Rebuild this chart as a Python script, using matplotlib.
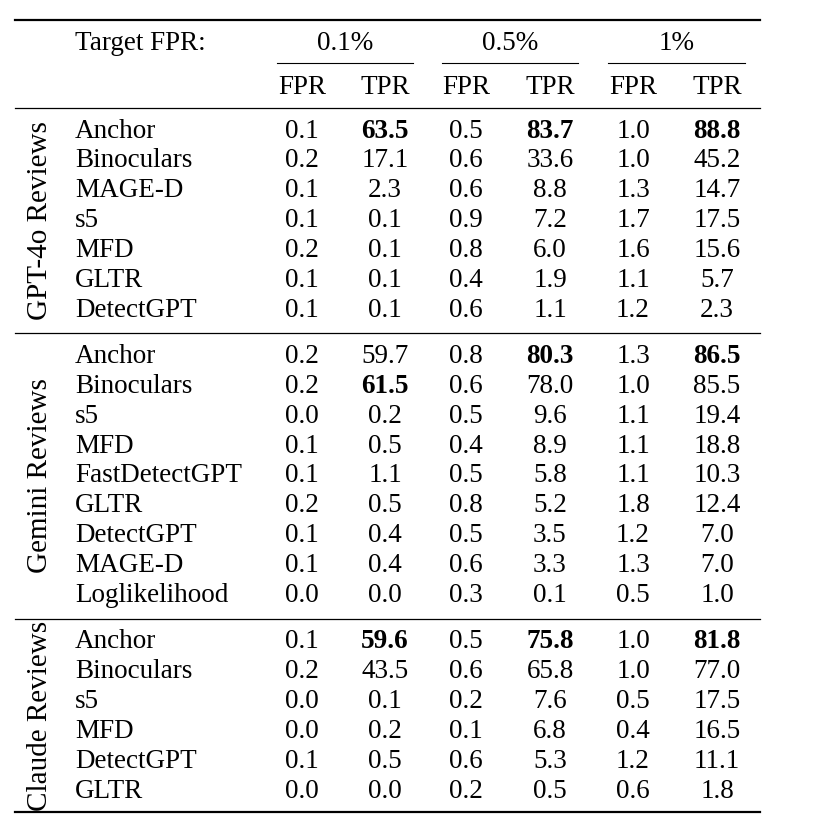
import matplotlib
matplotlib.use("Agg")
import matplotlib.pyplot as plt
import numpy as np

plt.rcParams["font.family"] = ["Liberation Serif", "DejaVu Serif"]

target_fprs = ["0.1%", "0.5%", "1%"]
groups = ["GPT-4o Reviews", "Gemini Reviews", "Claude Reviews"]

gpt_methods = ["Anchor", "Binoculars", "MAGE-D", "s5", "MFD", "GLTR", "DetectGPT"]
gpt_values = [
    [0.1, 63.5, 0.5, 83.7, 1.0, 88.8],
    [0.2, 17.1, 0.6, 33.6, 1.0, 45.2],
    [0.1, 2.3, 0.6, 8.8, 1.3, 14.7],
    [0.1, 0.1, 0.9, 7.2, 1.7, 17.5],
    [0.2, 0.1, 0.8, 6.0, 1.6, 15.6],
    [0.1, 0.1, 0.4, 1.9, 1.1, 5.7],
    [0.1, 0.1, 0.6, 1.1, 1.2, 2.3],
]
gemini_methods = ["Anchor", "Binoculars", "s5", "MFD", "FastDetectGPT", "GLTR",
                  "DetectGPT", "MAGE-D", "Loglikelihood"]
gemini_values = [
    [0.2, 59.7, 0.8, 80.3, 1.3, 86.5],
    [0.2, 61.5, 0.6, 78.0, 1.0, 85.5],
    [0.0, 0.2, 0.5, 9.6, 1.1, 19.4],
    [0.1, 0.5, 0.4, 8.9, 1.1, 18.8],
    [0.1, 1.1, 0.5, 5.8, 1.1, 10.3],
    [0.2, 0.5, 0.8, 5.2, 1.8, 12.4],
    [0.1, 0.4, 0.5, 3.5, 1.2, 7.0],
    [0.1, 0.4, 0.6, 3.3, 1.3, 7.0],
    [0.0, 0.0, 0.3, 0.1, 0.5, 1.0],
]
claude_methods = ["Anchor", "Binoculars", "s5", "MFD", "DetectGPT", "GLTR"]
claude_values = [
    [0.1, 59.6, 0.5, 75.8, 1.0, 81.8],
    [0.2, 43.5, 0.6, 65.8, 1.0, 77.0],
    [0.0, 0.1, 0.2, 7.6, 0.5, 17.5],
    [0.0, 0.2, 0.1, 6.8, 0.4, 16.5],
    [0.1, 0.5, 0.6, 5.3, 1.2, 11.1],
    [0.0, 0.0, 0.2, 0.5, 0.6, 1.8],
]
blocks = [(gpt_methods, gpt_values), (gemini_methods, gemini_values),
          (claude_methods, claude_values)]

W, H = 815, 826
fig = plt.figure(figsize=(W / 100, H / 100), dpi=100)
ax = fig.add_axes([0, 0, 1, 1])
ax.set_xlim(0, W)
ax.set_ylim(H, 0)
ax.axis("off")

fs = 19.5
col_x = [302, 385, 466, 550, 633, 717]
group_x = [(277, 413), (442, 578), (608, 745)]
x0, x1 = 15, 760
row_h = 29.9

ax.plot([x0, x1], [20, 20], color="black", lw=1.6)
ax.text(75, 43, "Target FPR:", fontsize=fs, va="center")
for lbl, (a, b) in zip(target_fprs, group_x):
    ax.text((a + b) / 2, 43, lbl, fontsize=fs, ha="center", va="center")
    ax.plot([a, b], [63, 63], color="black", lw=0.8)
for i, cx in enumerate(col_x):
    ax.text(cx, 87, "FPR" if i % 2 == 0 else "TPR", fontsize=fs, ha="center", va="center")

y_top = 108
for g, (name, (methods, values)) in enumerate(zip(groups, blocks)):
    ax.plot([x0, x1], [y_top, y_top], color="black", lw=0.9)
    vals = np.array(values)
    best = vals.argmax(axis=0)
    ys = [y_top + 23 + i * row_h for i in range(len(methods))]
    for i, (m, row) in enumerate(zip(methods, values)):
        ax.text(75, ys[i], m, fontsize=fs, va="center")
        for j, v in enumerate(row):
            bold = j % 2 == 1 and best[j] == i
            ax.text(col_x[j], ys[i], f"{v:.1f}", fontsize=fs, ha="center", va="center",
                    fontweight="bold" if bold else "normal")
    ax.text(40, (ys[0] + ys[-1]) / 2, name, fontsize=21, rotation=90,
            ha="center", va="center")
    y_top = ys[-1] + 23

ax.plot([x0, x1], [y_top - 2, y_top - 2], color="black", lw=1.6)
fig.savefig("out.png", dpi=100)
